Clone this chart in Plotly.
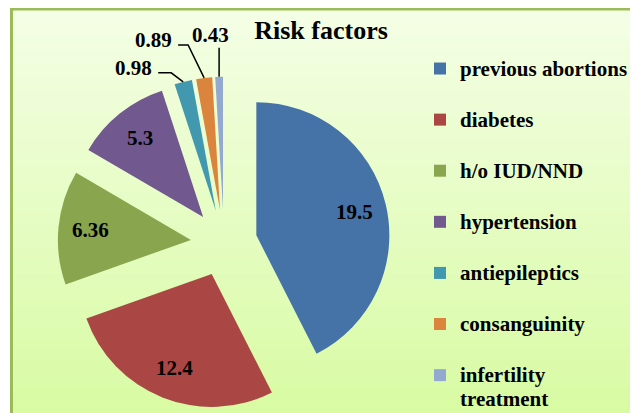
import math
import plotly.graph_objects as go

# ---- data ----
categories = ["previous abortions", "diabetes", "h/o IUD/NND", "hypertension",
              "antiepileptics", "consanguinity", "infertility treatment"]
values = [19.5, 12.4, 6.36, 5.3, 0.98, 0.89, 0.43]
colors = ["#4572A7", "#AA4643", "#89A54E", "#71588F", "#4198AF", "#DB843D", "#93A9CF"]
title_text = "Risk factors"

# ---- layout geometry (screen pixels; page body adds an 8px offset) ----
OFF = 8
W, H = 630, 428
CX, CY, R = 224, 243, 133
PULL = 0.25
FONT = "Liberation Serif"

half = R * (1 + PULL)


def px(x):
    return (x - OFF) / W


def py(y):
    return 1 - (y - OFF) / H


dom_x = [px(CX - half), px(CX + half)]
dom_y = [py(CY + half), py(CY - half)]

# legend labels: wrapped display, padded with an empty line for spacing
display = {"infertility treatment": "infertility<br>treatment"}
legend_labels = []
for c in categories:
    d = display.get(c, c)
    if "<br>" in d:
        a, b = d.split("<br>")
        legend_labels.append(f"<span style='font-size:21px'>{a}</span><br>"
                             f"<span style='font-size:21px'>{b}</span>")
    else:
        legend_labels.append(f"<span style='font-size:21px'>{d}</span><br> ")

fig = go.Figure()
fig.add_trace(go.Pie(
    labels=legend_labels,
    values=values,
    sort=False,
    direction="clockwise",
    rotation=0,
    pull=[PULL] * len(values),
    marker=dict(colors=colors, line=dict(width=0)),
    textinfo="none",
    domain=dict(x=dom_x, y=dom_y),
    hoverinfo="skip",
))

shapes = []
# background gradient panel
GRAD_TOP = (244, 254, 229)
GRAD_BOT = (216, 251, 163)
y_top, y_bot = 9, 414
x_l, x_r = 11, 632
N = 60
for i in range(N):
    t = i / (N - 1)
    c = tuple(round(GRAD_TOP[k] + (GRAD_BOT[k] - GRAD_TOP[k]) * t) for k in range(3))
    ya = y_top + (y_bot - y_top) * i / N
    yb = y_top + (y_bot - y_top) * (i + 1) / N + 0.5
    shapes.append(dict(type="rect", xref="paper", yref="paper", layer="below",
                       x0=px(x_l), x1=px(x_r), y0=py(ya), y1=py(yb),
                       fillcolor=f"rgb{c}", line=dict(width=0)))
# extend panel below the visible window
shapes.append(dict(type="rect", xref="paper", yref="paper", layer="below",
                   x0=px(x_l), x1=px(x_r), y0=py(y_bot + 20), y1=py(y_bot),
                   fillcolor=f"rgb{GRAD_BOT}", line=dict(width=0)))
# border
shapes.append(dict(type="rect", xref="paper", yref="paper", layer="below",
                   x0=px(11.5), x1=px(631.5), y0=py(9), y1=py(432),
                   fillcolor="rgba(0,0,0,0)", line=dict(color="#9BBB59", width=3)))

label_font = dict(family=FONT, size=21, color="black", weight="bold")

# labels: inside for large slices, leader lines for small ones
total = sum(values)
cum = 0
small_style = {
    # category: (elbow dx, dy), (end dx, dy), (text dx, dy), xanchor
    "antiepileptics": ((-12, -9), (-25, -9), (-29, -14), "right"),
    "consanguinity": ((-16, -33), (-26, -33), (-30, -38), "right"),
    "infertility treatment": ((0, -29), (0, -29), (-9, -42), "center"),
}
INSIDE_FRAC = 0.76
annotations = []
for cat, v in zip(categories, values):
    mid = math.radians((cum + v / 2) / total * 360)
    cum += v
    sx, sy = math.sin(mid), -math.cos(mid)
    # slice apex after the pull
    ax, ay = CX + PULL * R * sx, CY + PULL * R * sy
    if cat in small_style:
        tx, ty = CX + half * sx, CY + half * sy
        (ex, ey), (fx, fy), (lx, ly), anc = small_style[cat]
        path = (f"M{px(tx)},{py(ty)} L{px(tx + ex)},{py(ty + ey)} "
                f"L{px(tx + fx)},{py(ty + fy)}")
        shapes.append(dict(type="path", xref="paper", yref="paper", path=path,
                           line=dict(color="black", width=1.5)))
        annotations.append(dict(x=px(tx + lx), y=py(ty + ly), xref="paper", yref="paper",
                                text=f"{v}", showarrow=False, xanchor=anc,
                                yanchor="middle", font=label_font))
    else:
        lx_, ly_ = ax + INSIDE_FRAC * R * sx, ay + INSIDE_FRAC * R * sy
        annotations.append(dict(x=px(lx_), y=py(ly_), xref="paper", yref="paper",
                                text=f"{v}", showarrow=False, xanchor="center",
                                yanchor="middle", font=label_font))

fig.update_layout(
    width=W, height=H,
    margin=dict(l=0, r=0, t=0, b=0),
    paper_bgcolor="white",
    plot_bgcolor="white",
    title=dict(text=title_text, x=px(321), y=py(30), xanchor="center", yanchor="middle",
               font=dict(family=FONT, size=26, color="black", weight="bold")),
    showlegend=True,
    legend=dict(x=px(420), y=py(50), xanchor="left", yanchor="top",
                font=dict(family=FONT, size=18.5, color="black", weight="bold"),
                valign="top", bgcolor="rgba(0,0,0,0)", borderwidth=0,
                itemclick=False, itemdoubleclick=False),
    shapes=shapes,
    annotations=annotations,
)

fig.write_html("out.html")
